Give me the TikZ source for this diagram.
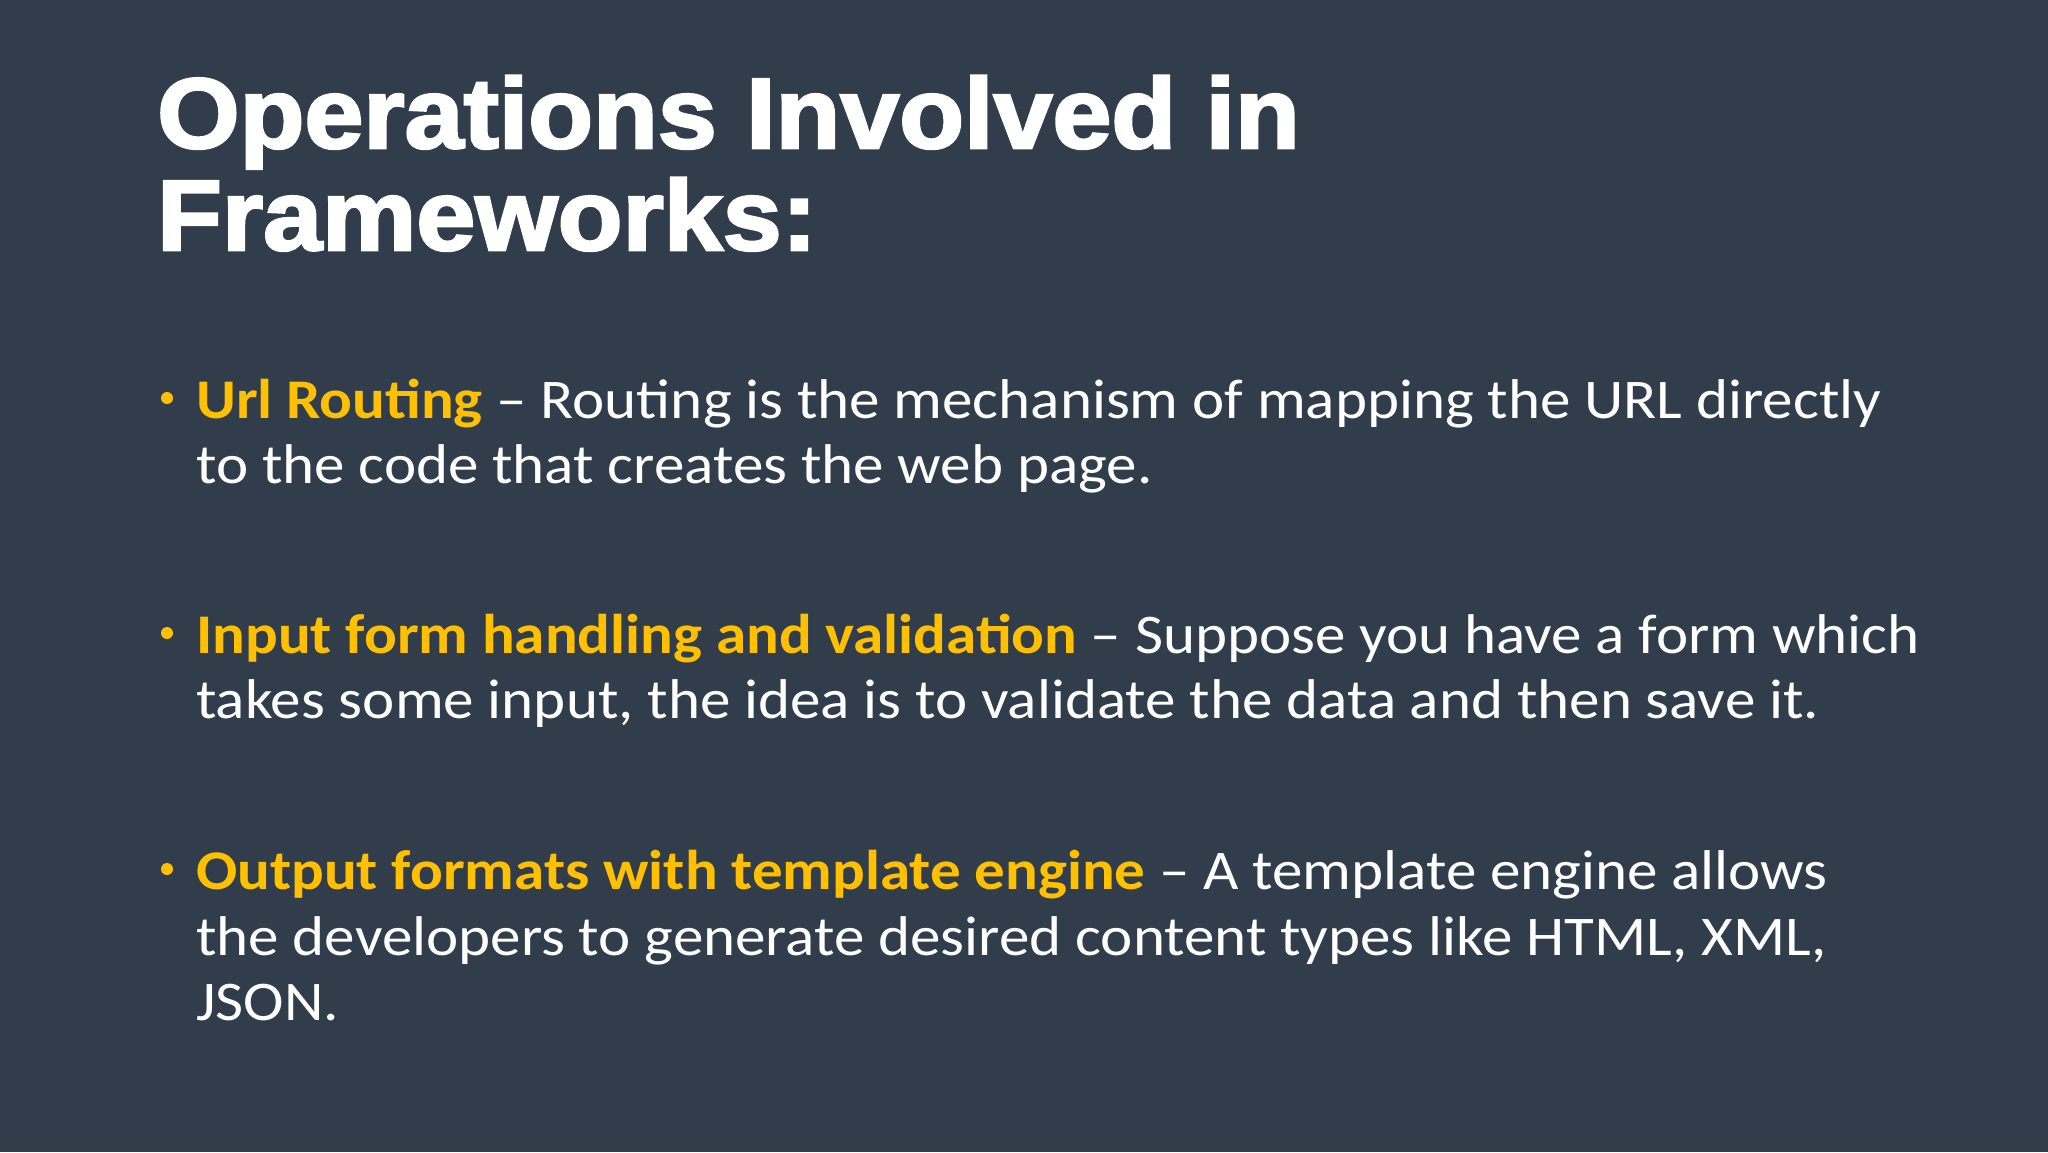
\documentclass[tikz,border=0pt]{standalone}
\usepackage{fontspec}
\setmainfont{Carlito}
\newfontfamily\titlefont[FakeBold=2.5]{Liberation Sans Bold}
\definecolor{bg}{HTML}{323D4C}
\definecolor{hl}{HTML}{FFC000}
\newcommand{\bx}[1]{\scalebox{1.09}[1]{#1}}
\begin{document}
\begin{tikzpicture}[x=1pt,y=1pt,
  body/.style={anchor=base west,inner sep=0pt,text=white,font=\fontsize{56}{66}\selectfont},
  ttl/.style={anchor=base west,inner sep=0pt,text=white,font=\titlefont\fontsize{100}{120}\selectfont},
  dot/.style={circle,fill=hl,inner sep=0pt,minimum size=12pt}]
\fill[bg] (0,0) rectangle (2048,-1152);
\useasboundingbox (0,0) rectangle (2048,-1152);
\node[ttl] (t1) at (157,-148) {\scalebox{1.06}[1]{Operations Involved in}};
\node[ttl] (t2) at (157,-250) {\scalebox{1.06}[1]{Frameworks:}};
\node[dot] (b1) at (167,-398) {};
\node[body] (l1a) at (196,-418) {\bx{\textcolor{hl}{\bfseries Url Routing} – Routing is the mechanism of mapping the URL directly}};
\node[body] (l1b) at (196,-483) {\bx{to the code that creates the web page.}};
\node[dot] (b2) at (167,-633) {};
\node[body] (l2a) at (196,-653) {\bx{\textcolor{hl}{\bfseries Input form handling and validation} – Suppose you have a form which}};
\node[body] (l2b) at (196,-718) {\bx{takes some input, the idea is to validate the data and then save it.}};
\node[dot] (b3) at (167,-869) {};
\node[body] (l3a) at (196,-889) {\bx{\textcolor{hl}{\bfseries Output formats with template engine} – A template engine allows}};
\node[body] (l3b) at (196,-955) {\bx{the developers to generate desired content types like HTML, XML,}};
\node[body] (l3c) at (196,-1020) {\bx{JSON.}};
\end{tikzpicture}
\end{document}
